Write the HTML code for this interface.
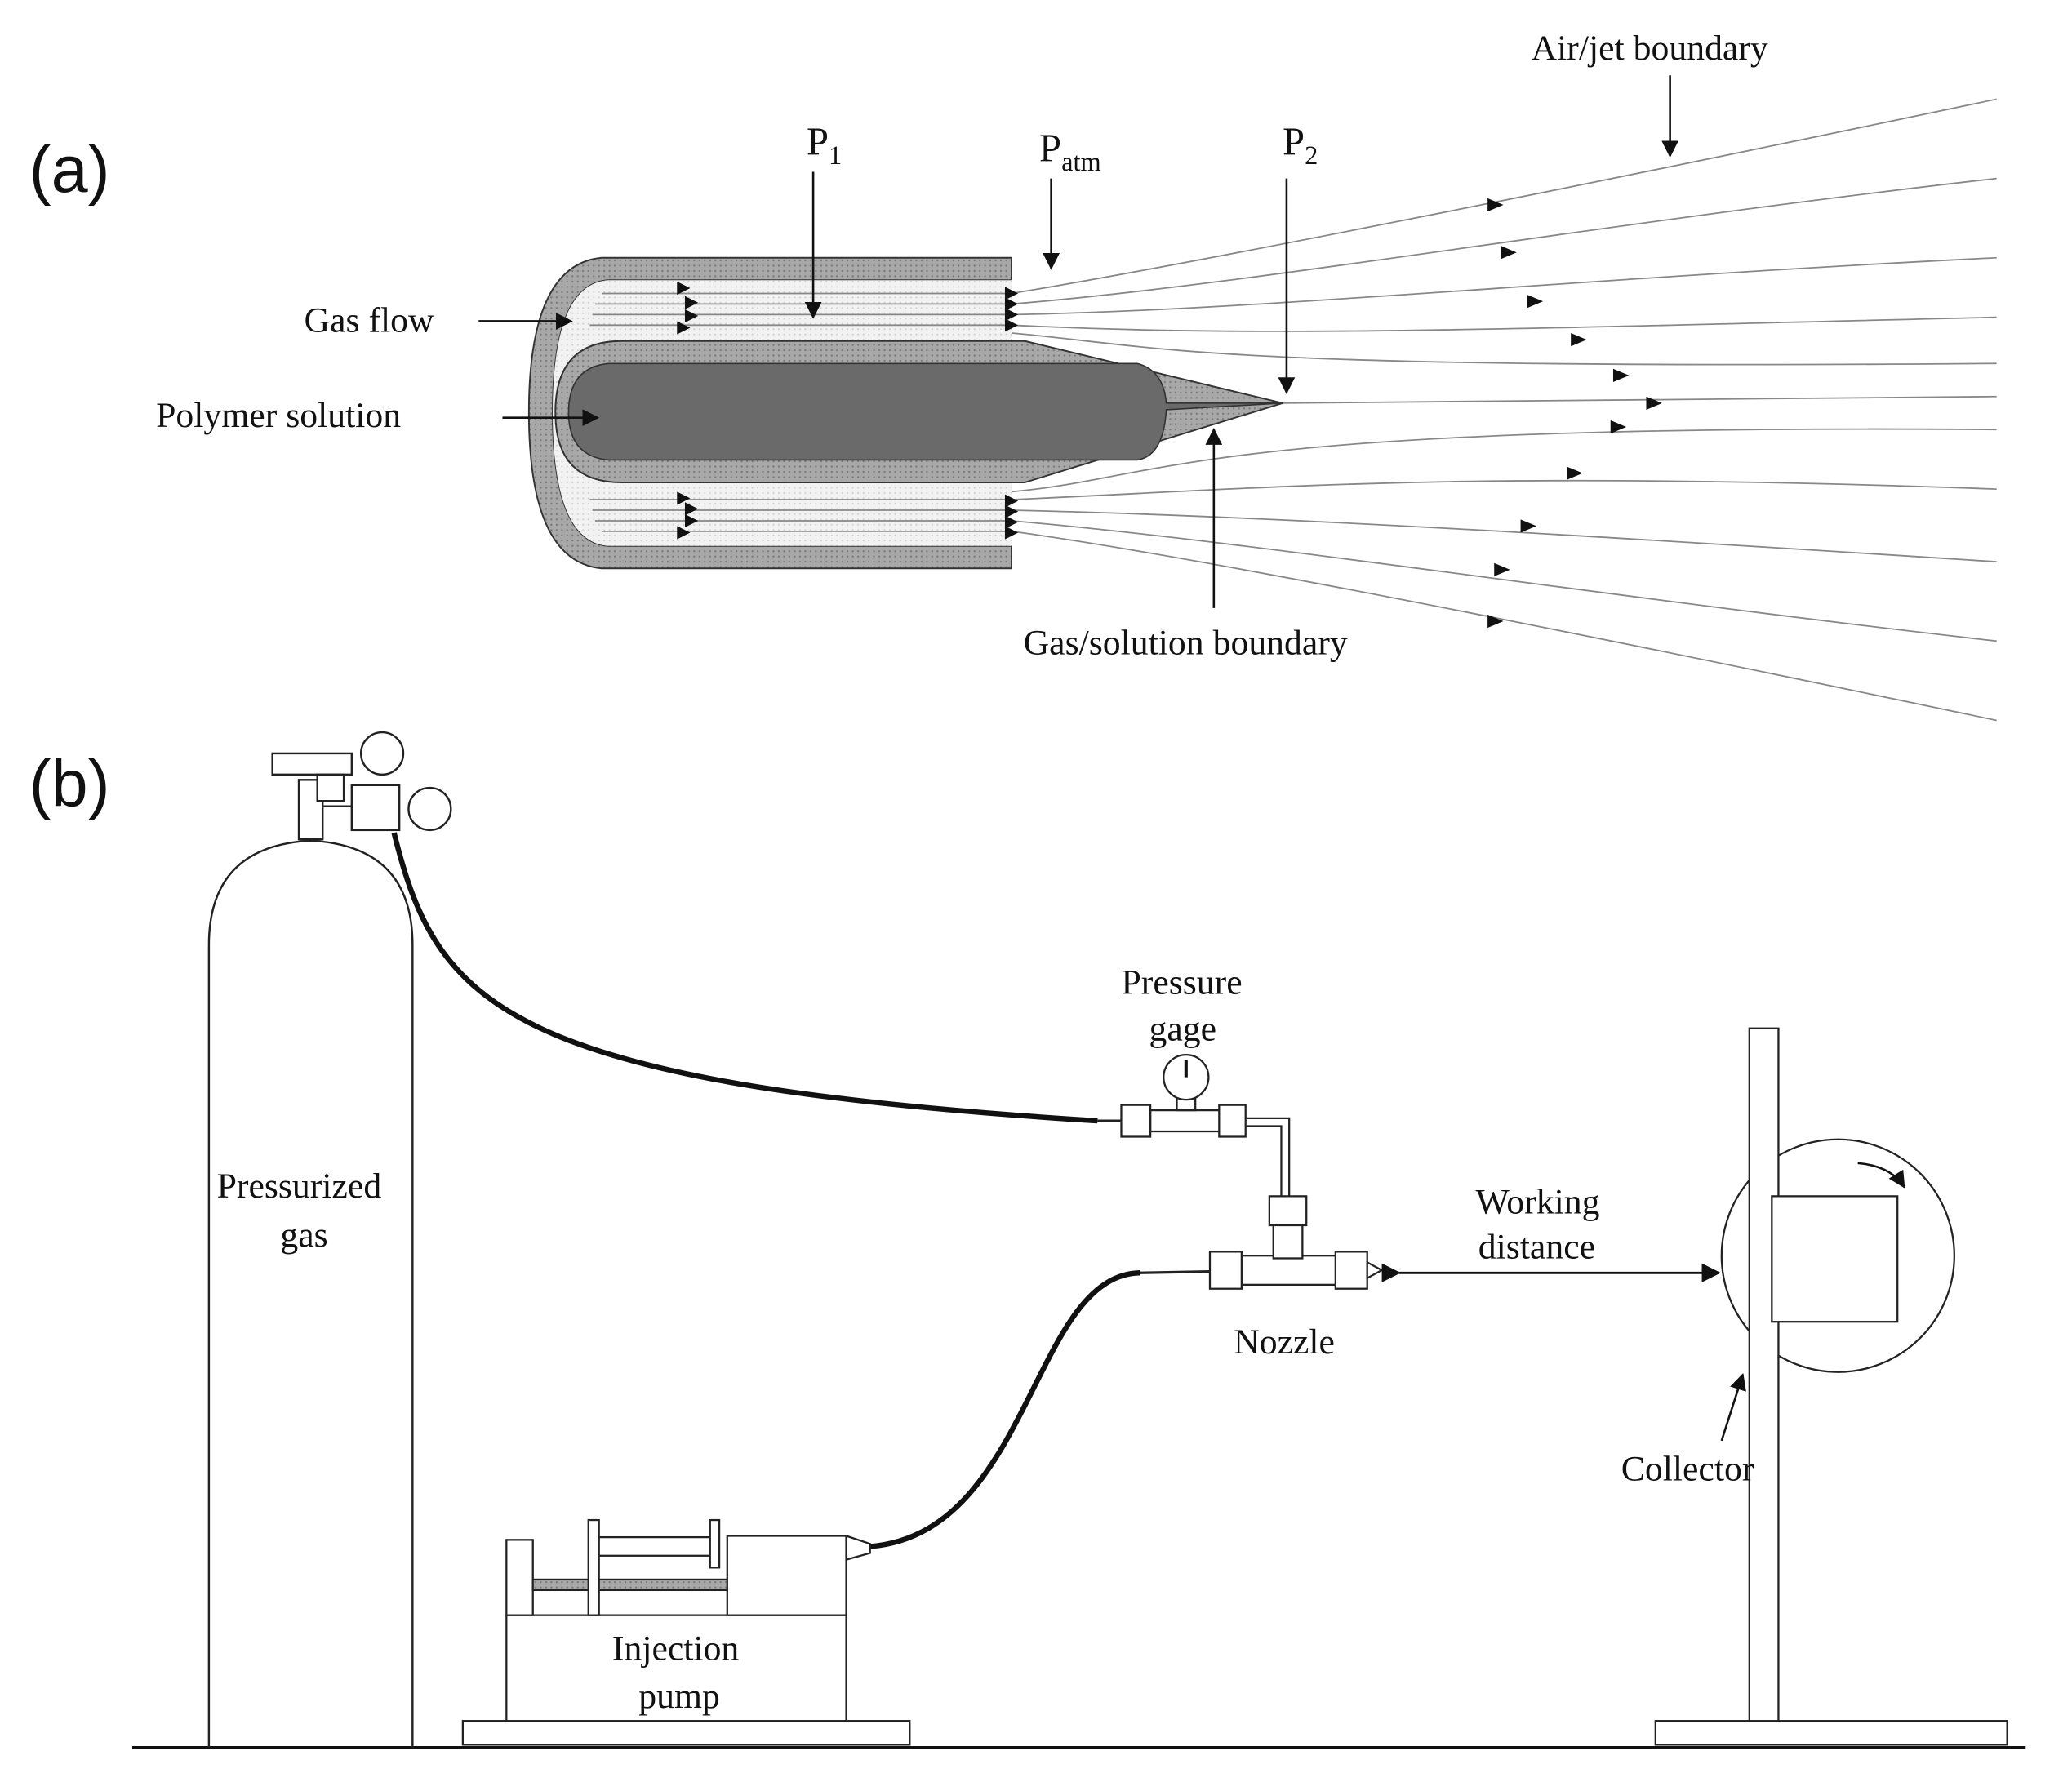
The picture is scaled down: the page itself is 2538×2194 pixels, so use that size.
<!DOCTYPE html>
<html><head><meta charset="utf-8"><style>
html,body{margin:0;padding:0;background:#fff}
svg{display:block}
text{font-family:"Liberation Serif",serif;fill:#111}
.l{font-family:"Liberation Sans",sans-serif}
</style></head><body>
<svg width="2538" height="2194" viewBox="0 0 1567 1355" preserveAspectRatio="none" xmlns="http://www.w3.org/2000/svg">
<defs>
<marker id="a" viewBox="0 0 10 10" refX="9" refY="5" markerWidth="8" markerHeight="8" orient="auto"><path d="M0,0L10,5L0,10z" fill="#111"/></marker>
<pattern id="st" width="4" height="4" patternUnits="userSpaceOnUse"><rect width="4" height="4" fill="#a8a8a8"/><circle cx="1" cy="1" r="0.7" fill="#777"/></pattern>
<pattern id="lt" width="4" height="4" patternUnits="userSpaceOnUse"><rect width="4" height="4" fill="#f2f2f2"/><circle cx="1" cy="1" r="0.6" fill="#ccc"/></pattern>
</defs>
<rect width="1567" height="1355" fill="#fff"/>
<text class="l" x="22" y="145" font-size="50">(a)</text>
<text class="l" x="22" y="610" font-size="50">(b)</text>

<!-- (a) nozzle -->
<path d="M765,195 L455,195 Q400,200 400,312 Q400,425 455,430 L765,430 L765,413 L460,413 Q418,410 418,312 Q418,215 460,212 L765,212 Z" fill="url(#st)" stroke="#333" stroke-width="1.2"/>
<path d="M460,212 Q418,215 418,312 Q418,410 460,413 L765,413 L765,212Z" fill="url(#lt)"/>
<path d="M470,258 L775,258 L970,305 L775,365 L470,365 Q420,365 420,312 Q420,258 470,258Z" fill="url(#st)" stroke="#333" stroke-width="1.2"/>
<path d="M460,275 L860,275 Q880,280 882,305 L970,305 L882,310 Q880,345 860,348 L460,348 Q430,345 430,312 Q430,278 460,275Z" fill="#6a6a6a" stroke="#333" stroke-width="1"/>
<g fill="none" stroke="#888" stroke-width="1.1">
<path d="M455,222 L765,222 C900,200 1200,140 1510,75"/>
<path d="M450,230 L765,230 C950,215 1200,170 1510,135"/>
<path d="M448,238 L765,238 C950,235 1200,210 1510,195"/>
<path d="M446,246 L765,246 C950,255 1100,250 1510,240"/>
<path d="M765,252 C880,262 900,280 1510,275"/>
<path d="M970,305 L1510,300"/>
<path d="M765,372 C880,362 900,320 1510,325"/>
<path d="M446,378 L765,378 C950,370 1100,355 1510,370"/>
<path d="M448,386 L765,386 C950,390 1200,405 1510,425"/>
<path d="M450,394 L765,394 C950,410 1200,450 1510,485"/>
<path d="M455,402 L765,402 C900,420 1200,480 1510,545"/>
</g>
<g fill="#111">
<path d="M1125,150 l12,5 -12,5z"/><path d="M1135,186 l12,5 -12,5z"/><path d="M1155,223 l12,5 -12,5z"/><path d="M1188,252 l12,5 -12,5z"/><path d="M1220,279 l12,5 -12,5z"/><path d="M1245,300 l12,5 -12,5z"/><path d="M1218,318 l12,5 -12,5z"/><path d="M1185,353 l12,5 -12,5z"/><path d="M1150,393 l12,5 -12,5z"/><path d="M1130,426 l12,5 -12,5z"/><path d="M1125,465 l12,5 -12,5z"/>
<path d="M512,213 l10,5 -10,5z"/><path d="M518,224 l10,5 -10,5z"/><path d="M518,234 l10,5 -10,5z"/><path d="M512,243 l10,5 -10,5z"/>
<path d="M760,217 l10,5 -10,5z"/><path d="M760,225 l10,5 -10,5z"/><path d="M760,233 l10,5 -10,5z"/><path d="M760,241 l10,5 -10,5z"/>
<path d="M512,372 l10,5 -10,5z"/><path d="M518,380 l10,5 -10,5z"/><path d="M518,389 l10,5 -10,5z"/><path d="M512,398 l10,5 -10,5z"/>
<path d="M760,374 l10,5 -10,5z"/><path d="M760,382 l10,5 -10,5z"/><path d="M760,390 l10,5 -10,5z"/><path d="M760,398 l10,5 -10,5z"/>
</g>
<g stroke="#111" stroke-width="1.6" fill="none" marker-end="url(#a)">
<path d="M615,130 L615,240"/><path d="M795,135 L795,203"/><path d="M973,135 L973,297"/><path d="M1263,57 L1263,118"/>
<path d="M918,460 L918,325"/><path d="M362,243 L432,243"/><path d="M380,316 L452,316"/>
</g>
<text x="1158" y="45" font-size="27">Air/jet boundary</text>
<text x="610" y="117" font-size="30">P<tspan font-size="20" dy="7">1</tspan></text>
<text x="786" y="122" font-size="30">P<tspan font-size="20" dy="7">atm</tspan></text>
<text x="970" y="117" font-size="30">P<tspan font-size="20" dy="7">2</tspan></text>
<text x="230" y="251" font-size="27">Gas flow</text>
<text x="118" y="323" font-size="27">Polymer solution</text>
<text x="774" y="495" font-size="27">Gas/solution boundary</text>

<!-- (b) -->
<line x1="100" y1="1322" x2="1532" y2="1322" stroke="#111" stroke-width="2"/>
<g fill="none" stroke="#222" stroke-width="1.5">
<path d="M158,1322 L158,715 Q158,640 235,636 Q312,640 312,715 L312,1322"/>
<rect x="226" y="590" width="18" height="45" fill="#fff"/>
<rect x="206" y="570" width="60" height="16" fill="#fff"/>
<rect x="240" y="586" width="20" height="20" fill="#fff"/>
<rect x="266" y="594" width="36" height="34" fill="#fff"/>
<line x1="244" y1="610" x2="266" y2="610"/>
<circle cx="289" cy="570" r="16" fill="#fff"/>
<circle cx="325" cy="612" r="16" fill="#fff"/>
</g>
<path d="M298,630 C330,760 380,820 830,848" fill="none" stroke="#111" stroke-width="4"/>
<g fill="#fff" stroke="#222" stroke-width="1.4">
<rect x="870" y="840" width="55" height="16"/>
<rect x="848" y="836" width="22" height="24"/>
<rect x="922" y="836" width="20" height="24"/>
<rect x="890" y="830" width="14" height="10"/>
<circle cx="897" cy="815" r="17"/>
<path d="M942,846 L975,846 L975,905 M942,852 L969,852 L969,905" fill="none"/>
<rect x="960" y="905" width="28" height="22"/>
<rect x="935" y="950" width="78" height="22"/>
<rect x="963" y="927" width="22" height="25"/>
<rect x="915" y="947" width="24" height="28"/>
<rect x="1010" y="947" width="24" height="28"/>
<path d="M1034,955 L1045,961 L1034,967Z"/>
</g>
<line x1="897" y1="815" x2="897" y2="802" stroke="#111" stroke-width="2.5"/>
<path d="M658,1170 C780,1160 780,965 862,963" fill="none" stroke="#111" stroke-width="4"/>
<line x1="862" y1="963" x2="915" y2="962" stroke="#222" stroke-width="2"/>
<line x1="830" y1="848" x2="848" y2="848" stroke="#222" stroke-width="2"/>
<g fill="#fff" stroke="#222" stroke-width="1.4">
<rect x="350" y="1302" width="338" height="18"/>
<rect x="383" y="1222" width="257" height="80"/>
<rect x="383" y="1165" width="20" height="57"/>
<rect x="403" y="1195" width="150" height="8" fill="url(#st)"/>
<rect x="445" y="1150" width="8" height="72"/>
<rect x="453" y="1163" width="85" height="14"/>
<rect x="537" y="1150" width="7" height="36"/>
<rect x="550" y="1162" width="90" height="60"/>
<path d="M640,1162 L658,1168 L658,1175 L640,1180Z"/>
<rect x="1252" y="1302" width="266" height="18"/>
<circle cx="1390" cy="950" r="88"/>
<rect x="1323" y="778" width="22" height="524"/>
<rect x="1340" y="905" width="95" height="95"/>
</g>
<path d="M1405,880 Q1430,882 1440,898" fill="none" stroke="#111" stroke-width="1.6" marker-end="url(#a)"/>
<path d="M1058,963 L1300,963" stroke="#111" stroke-width="1.8" marker-end="url(#a)" marker-start="url(#a)" fill="none"/>
<path d="M1302,1090 L1318,1040" stroke="#111" stroke-width="1.6" marker-end="url(#a)" fill="none"/>
<text x="848" y="752" font-size="27">Pressure</text>
<text x="869" y="787" font-size="27">gage</text>
<text x="164" y="906" font-size="27">Pressurized</text>
<text x="212" y="943" font-size="27">gas</text>
<text x="1116" y="918" font-size="27">Working</text>
<text x="1118" y="952" font-size="27">distance</text>
<text x="933" y="1024" font-size="27">Nozzle</text>
<text x="1226" y="1120" font-size="27">Collector</text>
<text x="463" y="1256" font-size="27">Injection</text>
<text x="483" y="1292" font-size="27">pump</text>
</svg>
</body></html>
